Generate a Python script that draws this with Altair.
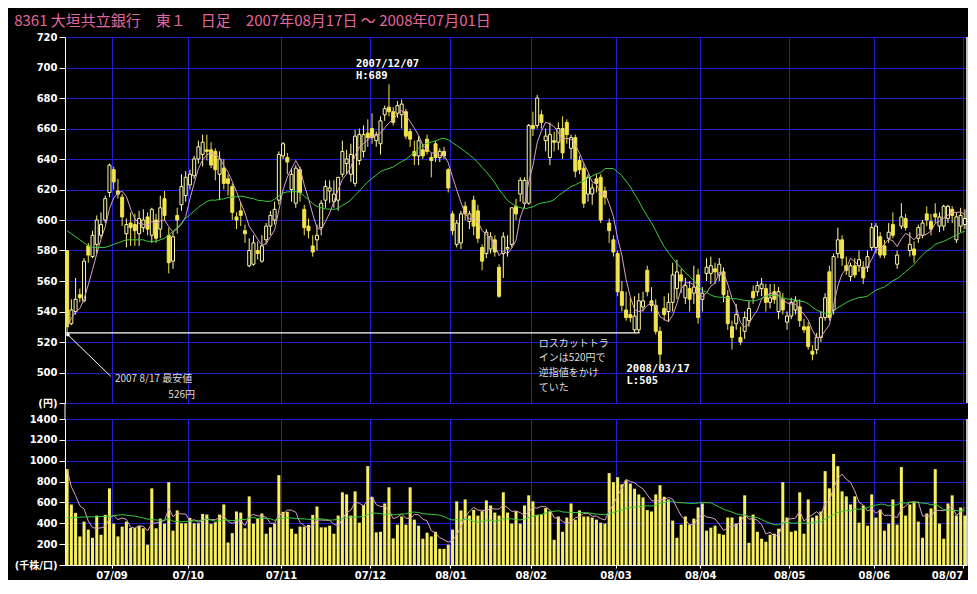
import altair as alt
import pandas as pd

# ---------------- data ----------------
month_labels = ["07/09", "07/10", "07/11", "07/12", "08/01", "08/02",
                "08/03", "08/04", "08/05", "08/06", "08/07"]
month_start = [11, 29, 51, 72, 91, 110, 130, 150, 171, 191, 212]

opens = [
    580, 532, 540, 551, 547, 583, 576, 584, 590, 600, 618,
    633, 619, 615, 591, 598, 597, 591, 595, 602, 590, 600, 594, 614, 590, 573, 603, 610, 616,
    623, 629, 640, 643, 646, 646, 645, 630, 634, 627, 622, 602, 606, 593, 570, 571, 580, 573, 587, 596, 600, 613,
    642, 641, 620, 611, 633, 607, 596, 583, 587, 595, 613, 619, 612, 613, 630, 637, 630, 624, 639, 645, 657,
    660, 652, 650, 669, 674, 671, 670, 669, 671, 658, 645, 642, 646, 653, 641, 650, 641, 645, 633,
    604, 584, 585, 609, 599, 613, 606, 582, 578, 581, 587, 569, 578, 581, 584, 609, 617, 611, 611,
    662, 662, 669, 652, 641, 652, 651, 660, 664, 647, 654, 639, 634, 617, 617, 627, 628, 619, 598, 587,
    578, 553, 541, 538, 528, 528, 543, 567, 547, 544, 527, 542, 540, 546, 555, 564, 549, 555, 552, 564,
    548, 565, 565, 568, 564, 566, 550, 530, 532, 523, 527, 534, 553, 553, 555, 555, 546, 553, 540, 548, 533,
    537, 541, 543, 530, 530, 514, 515, 523, 536, 566, 541, 578, 587, 570, 563, 570, 570, 569, 569, 582,
    582, 589, 583, 588, 597, 571, 596, 601, 580, 581, 588, 590, 604, 599, 604, 596, 596, 601, 607, 587, 596,
    597,
]
highs = [
    580, 548, 562, 555, 575, 585, 593, 603, 605, 616, 637,
    635, 627, 617, 601, 605, 604, 606, 607, 605, 608, 604, 616, 619, 595, 592, 608, 630, 632,
    633, 642, 652, 656, 656, 651, 647, 645, 640, 630, 624, 605, 612, 597, 588, 590, 586, 590, 598, 606, 612, 645,
    651, 644, 634, 636, 635, 610, 601, 590, 597, 613, 626, 626, 626, 628, 652, 646, 650, 659, 660, 662, 666,
    670, 658, 668, 675, 689, 674, 678, 679, 673, 660, 652, 655, 650, 656, 644, 652, 647, 648, 634,
    606, 600, 606, 612, 606, 616, 610, 584, 594, 592, 590, 571, 592, 590, 608, 614, 628, 628, 663,
    671, 682, 672, 660, 664, 658, 664, 668, 666, 656, 656, 642, 637, 630, 624, 630, 630, 622, 601, 590,
    580, 560, 553, 549, 550, 552, 553, 570, 556, 548, 530, 550, 552, 572, 574, 568, 562, 560, 570, 568,
    556, 575, 576, 572, 575, 569, 554, 534, 545, 530, 540, 547, 557, 560, 562, 558, 558, 558, 556, 552, 540,
    549, 550, 548, 535, 533, 518, 526, 540, 552, 570, 578, 595, 590, 576, 572, 575, 580, 573, 580, 598,
    598, 592, 587, 598, 605, 580, 611, 604, 592, 586, 597, 600, 609, 604, 611, 605, 610, 610, 609, 605, 608,
    607,
]
lows = [
    526, 531, 538, 546, 546, 572, 575, 578, 588, 598, 615,
    620, 614, 596, 582, 583, 583, 583, 592, 590, 585, 585, 588, 600, 565, 568, 591, 606, 612,
    620, 627, 637, 635, 639, 634, 626, 613, 620, 616, 600, 594, 596, 585, 569, 570, 574, 572, 584, 590, 597, 610,
    640, 630, 612, 608, 612, 590, 588, 576, 580, 590, 608, 611, 608, 606, 628, 630, 625, 622, 636, 641, 648,
    650, 648, 643, 665, 668, 662, 667, 660, 653, 648, 636, 636, 640, 643, 628, 638, 638, 640, 618,
    590, 582, 581, 600, 594, 590, 585, 567, 575, 578, 576, 549, 562, 576, 582, 600, 612, 608, 610,
    655, 660, 660, 645, 636, 645, 646, 640, 650, 640, 628, 630, 608, 612, 610, 618, 598, 610, 585, 576,
    550, 540, 534, 533, 526, 526, 540, 550, 540, 525, 505, 534, 533, 540, 548, 552, 545, 540, 545, 532,
    540, 560, 558, 558, 560, 546, 528, 515, 528, 518, 522, 530, 545, 550, 550, 540, 542, 545, 535, 538, 528,
    535, 538, 530, 526, 515, 508, 512, 520, 534, 534, 538, 575, 570, 564, 560, 562, 566, 558, 566, 580,
    578, 575, 575, 585, 588, 568, 594, 593, 576, 572, 585, 588, 596, 590, 598, 592, 593, 598, 598, 585, 592,
    594,
]
closes = [
    530, 541, 548, 549, 573, 577, 590, 600, 597, 614, 636,
    625, 617, 602, 597, 595, 593, 601, 600, 594, 607, 588, 608, 603, 572, 589, 600, 622, 628,
    630, 640, 648, 651, 645, 636, 633, 640, 624, 624, 605, 600, 603, 591, 580, 585, 578, 583, 596, 603, 607, 643,
    650, 638, 630, 634, 618, 595, 593, 579, 590, 611, 622, 621, 617, 628, 645, 640, 643, 655, 656, 656, 654,
    654, 656, 665, 673, 671, 664, 675, 676, 655, 653, 642, 652, 642, 645, 639, 641, 645, 642, 621,
    593, 598, 604, 604, 604, 596, 588, 573, 592, 589, 579, 550, 589, 582, 608, 604, 626, 626, 662,
    660, 680, 664, 655, 656, 651, 660, 644, 656, 654, 632, 633, 611, 628, 621, 624, 600, 615, 593, 579,
    553, 544, 536, 536, 537, 547, 547, 553, 544, 527, 512, 538, 546, 564, 566, 560, 557, 548, 556, 536,
    552, 569, 570, 566, 571, 551, 532, 523, 538, 520, 536, 542, 549, 557, 558, 546, 549, 548, 553, 541, 537,
    546, 547, 534, 528, 517, 512, 523, 536, 549, 536, 576, 587, 575, 567, 570, 564, 574, 562, 576, 595,
    596, 577, 577, 592, 590, 577, 602, 595, 584, 577, 595, 598, 600, 594, 602, 602, 609, 609, 603, 602, 603,
    601,
]
volumes = [
    919, 580, 500, 274, 416, 339, 261, 474, 290, 481, 735, 397, 274, 368, 416, 355, 355, 377, 352, 194,
    735, 352, 445, 397, 794, 329, 523, 400, 400, 452, 400, 400, 490, 484, 394, 410, 484, 581, 216, 306,
    513, 503, 352, 658, 397, 445, 494, 300, 361, 397, 861, 510, 510, 348, 300, 368, 368, 384, 481, 561,
    361, 361,
    377, 300, 474, 697, 677, 474, 706, 406, 574, 948,
    652, 313, 319, 590, 745, 255, 387, 465, 387, 745,
    435, 377, 252, 310, 274, 319, 155, 155, 194, 339,
    610, 523, 629, 474, 529, 474, 516, 619, 571, 503,
    474, 697, 503, 397, 516, 397, 571, 668, 610, 481,
    484, 545, 513, 242, 465, 319, 455, 590, 435, 523,
    465, 465, 455, 435, 406, 397, 881, 794, 842, 774,
    813, 781, 732, 677, 648,
    526, 513, 677, 765, 655, 629, 426, 261, 387, 465,
    387, 445, 552, 590, 329, 358, 377, 300, 290, 455,
    455, 397, 465, 668, 213, 484, 319, 252, 223, 290,
    300, 348, 794, 455, 319, 329, 697, 300, 629, 455,
    474, 513, 900, 735, 1065, 948, 706, 658, 581, 658,
    406, 571, 377, 677, 455, 532, 329, 397, 629, 387,
    939, 474, 581, 610, 416, 261, 494, 542, 919, 397,
    252, 590, 668, 474, 552, 474,
]
# 25-day averages at the left edge (they include days before the period)
ma25_price_lead = [593, 591, 589, 587, 585, 583, 582, 582, 582, 582, 583, 584,
                   585, 586, 587, 587, 587, 587, 587, 586, 586, 586, 587, 588]
ma25_vol_lead = [452, 454, 456, 458, 460, 461, 462, 463, 465, 467, 468, 472,
                 478, 482, 478, 472, 468, 460, 450, 440, 435, 432, 430, 428]

# annotations (bar index, price, text)
note_sans_i = [11.8, 24.4, 111.9, 111.9, 111.9, 111.9]
note_sans_p = [495.6, 485.4, 519.0, 509.3, 499.6, 489.9]
note_sans_t = ["2007 8/17 最安値", "526円", "ロスカットトラ", "インは520円で", "逆指値をかけ", "ていた"]
note_mono_i = [68.7, 68.7, 132.6, 132.6]
note_mono_p = [702.5, 694.5, 502.3, 494.3]
note_mono_t = ["2007/12/07", "H:689", "2008/03/17", "L:505"]
stop_line_i = [0.0, 135.7]
stop_line_p = [526, 526]
pointer_i = [0.7, 10.8]
pointer_p = [524.7, 497.5]

# ---------------- frames ----------------
df = pd.DataFrame({"i": list(range(len(closes))), "open": opens, "high": highs,
                   "low": lows, "close": closes, "vol": volumes})
df["ma5"] = df["close"].rolling(5, min_periods=1).mean()
m25 = df["close"].rolling(25).mean()
m25.iloc[:24] = ma25_price_lead
df["ma25"] = m25
df["vma5"] = df["vol"].rolling(5, min_periods=1).mean()
v25 = df["vol"].rolling(25).mean()
v25.iloc[:24] = ma25_vol_lead
df["vma25"] = v25

notes_sans = pd.DataFrame({"i": note_sans_i, "p": note_sans_p, "t": note_sans_t})
notes_mono = pd.DataFrame({"i": note_mono_i, "p": note_mono_p, "t": note_mono_t})
stop_df = pd.DataFrame({"i": [stop_line_i[0]], "i2": [stop_line_i[1]], "p": [stop_line_p[0]]})
ptr_df = pd.DataFrame({"i": [pointer_i[0]], "i2": [pointer_i[1]],
                       "p": [pointer_p[0]], "p2": [pointer_p[1]]})
dot_df = pd.DataFrame({"i": [pointer_i[0]], "p": [pointer_p[0]]})

# ---------------- style ----------------
BLUE = "#1e1ed2"
FILLY = "#f2e44c"
HOLLOWY = "#fff8a8"
VOLY = "#f7ef62"
PINK = "#d9a0cc"
GREEN = "#3ccc3c"
W, H_UP, H_LO = 902, 366, 146
AXFONT = "DejaVu Sans"
CJK = "Noto Sans CJK JP"

xscale = alt.Scale(domain=[0, 213], nice=False, zero=False, padding=0)
label_expr = ("[" + ",".join("'%s'" % m for m in month_labels) + "][indexof(["
              + ",".join(str(v) for v in month_start) + "], datum.value)]")

ax_x_up = alt.Axis(values=month_start, grid=True, gridColor=BLUE, gridOpacity=1,
                   labels=False, ticks=False, domain=False, title=None)
ax_x_lo = alt.Axis(values=month_start, grid=True, gridColor=BLUE, gridOpacity=1,
                   labelExpr=label_expr, labelFlush=10, labelColor="white",
                   labelFont=AXFONT, labelFontWeight="bold", labelFontSize=10,
                   labelPadding=2, ticks=True, tickColor="white", tickSize=3,
                   domain=True, domainColor="white", title=None)
ax_y_up = alt.Axis(values=list(range(480, 721, 20)),
                   labelExpr="datum.value == 480 ? '(円)' : datum.value",
                   grid=True, gridColor=BLUE, gridOpacity=1, labelColor="white",
                   labelFont=AXFONT + ", " + CJK, labelFontWeight="bold", labelFontSize=10,
                   labelPadding=2, tickColor="white", tickSize=6, domainColor="white",
                   title=None)
ax_y_lo = alt.Axis(values=list(range(0, 1401, 200)),
                   labelExpr="datum.value == 0 ? '(千株/口)' : datum.value",
                   grid=True, gridColor=BLUE, gridOpacity=1, labelColor="white",
                   labelFont=AXFONT + ", " + CJK, labelFontWeight="bold", labelFontSize=10,
                   labelPadding=2, tickColor="white", tickSize=6, domainColor="white",
                   title=None)

yscale_up = alt.Scale(domain=[480, 720], nice=False, zero=False)
yscale_lo = alt.Scale(domain=[0, 1400], nice=False)

base = alt.Chart(df).transform_calculate(xc="datum.i + 0.5")
X_UP = alt.X("xc:Q", scale=xscale, axis=ax_x_up)
is_up = "datum.close >= datum.open"

wicks = base.mark_rule(strokeWidth=1).encode(
    x=X_UP,
    y=alt.Y("low:Q", scale=yscale_up, axis=ax_y_up),
    y2="high:Q",
    color=alt.condition(is_up, alt.value(HOLLOWY), alt.value(FILLY)),
)
bodies = base.mark_bar(width=3, strokeWidth=1).encode(
    x=X_UP,
    y=alt.Y("open:Q", scale=yscale_up, axis=ax_y_up),
    y2="close:Q",
    fill=alt.condition(is_up, alt.value("#000000"), alt.value(FILLY)),
    stroke=alt.condition(is_up, alt.value(HOLLOWY), alt.value(FILLY)),
)
ma5_line = base.mark_line(color=PINK, strokeWidth=1).encode(
    x=X_UP, y=alt.Y("ma5:Q", scale=yscale_up, axis=ax_y_up))
ma25_line = base.mark_line(color=GREEN, strokeWidth=1).encode(
    x=X_UP, y=alt.Y("ma25:Q", scale=yscale_up, axis=ax_y_up))

stop_rule = alt.Chart(stop_df).mark_rule(color="white", strokeWidth=1.2).encode(
    x=alt.X("i:Q", scale=xscale, axis=ax_x_up), x2="i2:Q",
    y=alt.Y("p:Q", scale=yscale_up, axis=ax_y_up))
ptr_rule = alt.Chart(ptr_df).mark_rule(color="white", strokeWidth=1).encode(
    x=alt.X("i:Q", scale=xscale, axis=ax_x_up), x2="i2:Q",
    y=alt.Y("p:Q", scale=yscale_up, axis=ax_y_up), y2="p2:Q")
dot = alt.Chart(dot_df).mark_point(filled=True, color="white", size=12, opacity=1).encode(
    x=alt.X("i:Q", scale=xscale, axis=ax_x_up),
    y=alt.Y("p:Q", scale=yscale_up, axis=ax_y_up))
txt_sans = alt.Chart(notes_sans).mark_text(
    align="left", baseline="middle", color="#dedede", font=CJK, fontSize=10).encode(
    x=alt.X("i:Q", scale=xscale, axis=ax_x_up),
    y=alt.Y("p:Q", scale=yscale_up, axis=ax_y_up), text="t:N")
txt_mono = alt.Chart(notes_mono).mark_text(
    align="left", baseline="middle", color="white", font="DejaVu Sans Mono",
    fontWeight="bold", fontSize=10.5).encode(
    x=alt.X("i:Q", scale=xscale, axis=ax_x_up),
    y=alt.Y("p:Q", scale=yscale_up, axis=ax_y_up), text="t:N")
right_up = alt.Chart(stop_df).mark_rule(color="white", strokeWidth=1.5).encode(
    x=alt.datum(213, scale=xscale), y=alt.value(0), y2=alt.value(H_UP))

upper = alt.layer(wicks, bodies, ma5_line, ma25_line, stop_rule, ptr_rule, dot,
                  txt_sans, txt_mono, right_up).properties(width=W, height=H_UP)

X_LO = alt.X("xc:Q", scale=xscale, axis=ax_x_lo)
vbars = base.mark_bar(width=3, color=VOLY).encode(
    x=X_LO, y=alt.Y("vol:Q", scale=yscale_lo, axis=ax_y_lo))
vma5_line = base.mark_line(color=PINK, strokeWidth=1).encode(
    x=X_LO, y=alt.Y("vma5:Q", scale=yscale_lo, axis=ax_y_lo))
vma25_line = base.mark_line(color=GREEN, strokeWidth=1).encode(
    x=X_LO, y=alt.Y("vma25:Q", scale=yscale_lo, axis=ax_y_lo))
right_lo = alt.Chart(stop_df).mark_rule(color="white", strokeWidth=1.5).encode(
    x=alt.datum(213, scale=xscale), y=alt.value(0), y2=alt.value(H_LO))
gap_rule = alt.Chart(stop_df).mark_rule(color="white", strokeWidth=1).encode(
    x=alt.value(0), y=alt.value(-16), y2=alt.value(0))

lower = alt.layer(vbars, vma5_line, vma25_line, right_lo, gap_rule).properties(
    width=W, height=H_LO)

title = alt.TitleParams(
    text="8361 大垣共立銀行　東１　日足　2007年08月17日 〜 2008年07月01日",
    anchor="start", color="#e4669e", font=CJK, fontSize=15, fontWeight="normal",
    offset=3, frame="bounds")

chart = alt.vconcat(upper, lower, spacing=16, bounds="flush", title=title,
                    padding={"left": 6, "top": 6, "right": 0, "bottom": 0},
                    background="#000000").configure_view(stroke=None)

chart.save("out.html", embed_options={"renderer": "svg", "actions": False})
